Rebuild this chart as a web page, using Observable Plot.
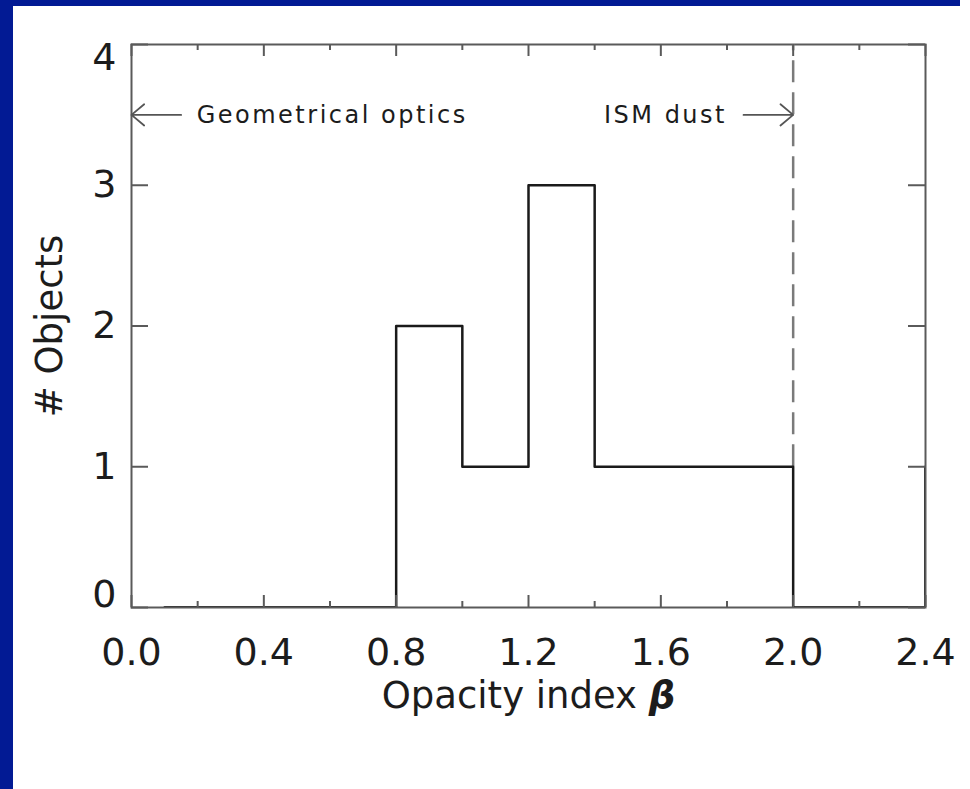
<!DOCTYPE html>
<html>
<head>
<meta charset="utf-8">
<script src="https://cdn.jsdelivr.net/npm/d3@7"></script>
<script src="https://cdn.jsdelivr.net/npm/@observablehq/plot@0.6"></script>
<style>
  html, body { margin: 0; padding: 0; background: #ffffff; width: 970px; height: 789px; overflow: hidden; }
  #chart { position: absolute; left: 0; top: 0; }
  .band { position: absolute; background: #021a94; z-index: 5; }
  #chart svg text.annot { letter-spacing: 2.5px; }
</style>
</head>
<body>
<div class="band" style="left:0;top:0;width:960px;height:6px"></div>
<div class="band" style="left:0;top:0;width:13px;height:789px"></div>
<div id="chart"></div>
<script>
// Histogram (bin centres, counts), drawn in histogram step mode
const binCenters = [0.1, 0.3, 0.5, 0.7, 0.9, 1.1, 1.3, 1.5, 1.7, 1.9, 2.1, 2.3, 2.5];
const counts     = [0,   0,   0,   0,   2,   1,   3,   1,   1,   1,   0,   0,   1];

// Axis ticks
const xMajorTicks = [0.0, 0.4, 0.8, 1.2, 1.6, 2.0, 2.4];
const xMinorTicks = [0.2, 0.6, 1.0, 1.4, 1.8, 2.2];
const yTicks = [0, 1, 2, 3, 4];

// Reference line and annotations
const ismBeta = [2.0];
const ismLineRange = [1, 4];
const annotY = 3.5;
const arrowStarts = [0.15, 1.85];
const arrowEnds   = [0.0, 2.0];
const annotTexts  = ["Geometrical optics", "ISM dust"];
const annotX      = [0.2, 1.8];

const xLabel = "Opacity index β";
const yLabel = "# Objects";

const hist = binCenters.map((x, i) => ({x, count: counts[i]}));
const arrows = arrowStarts.map((x1, i) => ({x1, x2: arrowEnds[i], y: annotY}));
const labels = annotTexts.map((t, i) => ({text: t, x: annotX[i], y: annotY, anchor: i === 0 ? "start" : "end"}));

const W = 970, H = 789;
const mL = 131, mR = 45, mT = 44, mB = 182;
const plotH = H - mT - mB;
const plotW = W - mL - mR;

const font = "DejaVu Sans, Liberation Sans, sans-serif";
const axisGray = "#5a5a5a";
const textColor = "#1c1c1c";

const chart = Plot.plot({
  width: W,
  height: H,
  marginLeft: mL,
  marginRight: mR,
  marginTop: mT,
  marginBottom: mB,
  style: {background: "transparent", fontFamily: font},
  x: {domain: [0, 2.4], axis: null},
  y: {domain: [0, 4], axis: null},
  marks: [
    // frame
    Plot.frame({stroke: axisGray, strokeWidth: 2}),
    // dashed ISM-dust line
    Plot.ruleX(ismBeta, {x: d => d, y1: ismLineRange[0], y2: ismLineRange[1], stroke: "#7a7a7a", strokeWidth: 2.5, strokeDasharray: "22,10"}),
    // histogram
    Plot.line(hist, {x: "x", y: "count", curve: "step", stroke: "#1a1a1a", strokeWidth: 2.5, clip: true}),
    // x ticks (inward), bottom and top
    Plot.tickX(xMajorTicks, {x: d => d, insetTop: plotH - 12, stroke: axisGray, strokeWidth: 2}),
    Plot.tickX(xMajorTicks, {x: d => d, insetBottom: plotH - 12, stroke: axisGray, strokeWidth: 2}),
    Plot.tickX(xMinorTicks, {x: d => d, insetTop: plotH - 6, stroke: axisGray, strokeWidth: 2}),
    Plot.tickX(xMinorTicks, {x: d => d, insetBottom: plotH - 6, stroke: axisGray, strokeWidth: 2}),
    // y ticks (inward), left and right
    Plot.tickY(yTicks, {y: d => d, insetRight: plotW - 17, stroke: axisGray, strokeWidth: 2}),
    Plot.tickY(yTicks, {y: d => d, insetLeft: plotW - 17, stroke: axisGray, strokeWidth: 2}),
    // x tick labels
    Plot.text(xMajorTicks, {x: d => d, frameAnchor: "bottom", text: d => d.toFixed(1), lineAnchor: "top", dy: 31, fontSize: 38, fill: textColor}),
    // y tick labels
    Plot.text(yTicks.filter(d => d > 0 && d < 4), {x: 0, y: d => d, text: d => String(d), textAnchor: "end", dx: -15, fontSize: 38, fill: textColor}),
    Plot.text(yTicks.filter(d => d === 4), {x: 0, y: d => d, text: d => String(d), textAnchor: "end", dx: -15, dy: 13, fontSize: 38, fill: textColor}),
    Plot.text(yTicks.filter(d => d === 0), {x: 0, y: d => d, text: d => String(d), textAnchor: "end", dx: -15, dy: -13, fontSize: 38, fill: textColor}),
    // axis titles
    Plot.text([xLabel], {frameAnchor: "bottom", text: d => d, lineAnchor: "middle", textAnchor: "middle", dy: 89, fontSize: 37, fill: textColor}),
    Plot.text([yLabel], {frameAnchor: "left", text: d => d, rotate: -90, lineAnchor: "middle", textAnchor: "middle", dx: -81, fontSize: 37, fill: textColor}),
    // annotation arrows
    Plot.arrow(arrows, {x1: "x1", x2: "x2", y1: "y", y2: "y", stroke: "#555555", strokeWidth: 1.8, headLength: 16, headAngle: 80}),
    // annotation texts
    Plot.text(labels.filter(d => d.anchor === "start"), {x: "x", y: "y", text: "text", textAnchor: "start", dx: -1, fontSize: 24, fill: textColor}),
    Plot.text(labels.filter(d => d.anchor === "end"), {x: "x", y: "y", text: "text", textAnchor: "end", dx: 0, fontSize: 24, fill: textColor})
  ]
});

document.getElementById("chart").appendChild(chart);

// annotation letter-spacing and bold-italic beta
d3.select(chart).selectAll("text").each(function() {
  const t = this.textContent;
  if (annotTexts.includes(t)) this.setAttribute("class", "annot");
});
d3.select(chart).selectAll("text").each(function() {
  if (this.textContent === xLabel) {
    const node = this.querySelector("tspan") || this;
    node.textContent = "Opacity index ";
    const b = document.createElementNS("http://www.w3.org/2000/svg", "tspan");
    b.setAttribute("font-weight", "bold");
    b.setAttribute("font-style", "italic");
    b.textContent = "β";
    node.appendChild(b);
  }
});
</script>
</body>
</html>
